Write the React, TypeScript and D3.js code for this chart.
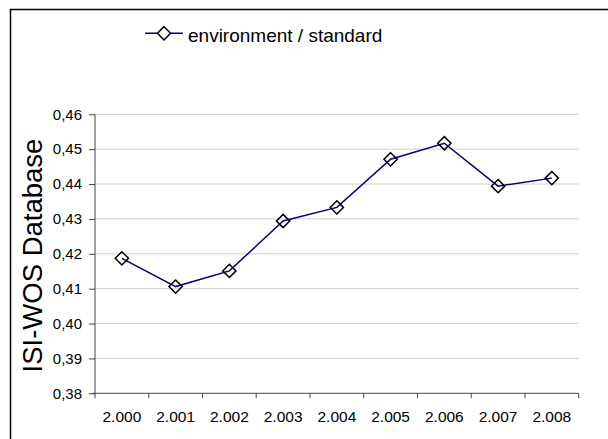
import { useEffect, useRef } from 'react'
import * as d3 from 'd3'

const years = ['2.000', '2.001', '2.002', '2.003', '2.004', '2.005', '2.006', '2.007', '2.008']
const values = [0.4187, 0.4106, 0.4151, 0.4294, 0.4333, 0.4471, 0.4517, 0.4394, 0.4417]
const yTicks = [0.38, 0.39, 0.4, 0.41, 0.42, 0.43, 0.44, 0.45, 0.46]
const seriesName = 'environment / standard'
const yTitle = 'ISI-WOS Database'

const W = 608
const H = 439
const margins = { top: 114.3, right: 29.3, bottom: 45.7, left: 95 }
const FONT = 'Arial, "Liberation Sans", sans-serif'

export default function App() {
  const ref = useRef<SVGSVGElement>(null)

  useEffect(() => {
    if (!ref.current) return
    const svg = d3.select(ref.current)
    svg.selectAll('*').remove()

    const width = W - margins.left - margins.right
    const height = H - margins.top - margins.bottom

    // outer chart frame
    svg
      .append('rect')
      .attr('x', 10.5)
      .attr('y', 9.5)
      .attr('width', W + 20)
      .attr('height', H + 20)
      .attr('fill', '#fff')
      .attr('stroke', '#000')
      .attr('stroke-width', 1.5)

    const g = svg.append('g').attr('transform', `translate(${margins.left},${margins.top})`)

    const x = d3.scaleBand().domain(years).range([0, width])
    const y = d3.scaleLinear().domain([0.38, 0.46]).range([height, 0])

    // gridlines
    g.selectAll('line.grid')
      .data(yTicks.slice(1))
      .enter()
      .append('line')
      .attr('class', 'grid')
      .attr('x1', 0)
      .attr('x2', width)
      .attr('y1', (d) => y(d))
      .attr('y2', (d) => y(d))
      .attr('stroke', '#cfcfcf')
      .attr('stroke-width', 1)

    // y axis
    const yAxis = g
      .append('g')
      .call(
        d3
          .axisLeft(y)
          .tickValues(yTicks)
          .tickSize(6)
          .tickPadding(7)
          .tickFormat((d) => d3.format('.2f')(d as number).replace('.', ','))
      )
    yAxis.select('.domain').attr('stroke', '#444').attr('d', `M0,0V${height}`)
    yAxis.selectAll('line').attr('stroke', '#444')
    yAxis.selectAll('text').style('font', `15px ${FONT}`).attr('fill', '#000')

    // x axis
    const xAxis = g
      .append('g')
      .attr('transform', `translate(0,${height})`)
      .call(d3.axisBottom(x).tickSize(0).tickFormat((d) => d))
    xAxis.select('.domain').attr('stroke', '#444').attr('d', `M-3,0H${width}`)
    xAxis.selectAll('text').attr('y', 29).attr('dy', 0).style('font', `15.5px ${FONT}`).attr('fill', '#000')

    // x ticks at band boundaries
    g.selectAll('line.xtick')
      .data(years.map((yr) => x(yr)!).concat([width]))
      .enter()
      .append('line')
      .attr('x1', (d) => d)
      .attr('x2', (d) => d)
      .attr('y1', height)
      .attr('y2', height + 5)
      .attr('stroke', '#444')

    // series line
    const cx = (i: number) => x(years[i])! + x.bandwidth() / 2
    const line = d3
      .line<number>()
      .x((_, i) => cx(i))
      .y((d) => y(d))
    g.append('path')
      .datum(values)
      .attr('d', line)
      .attr('fill', 'none')
      .attr('stroke', '#000080')
      .attr('stroke-width', 1.5)

    const diamond = d3.symbol().type(d3.symbolDiamond2).size(112)
    g.selectAll('path.marker')
      .data(values)
      .enter()
      .append('path')
      .attr('class', 'marker')
      .attr('transform', (d, i) => `translate(${cx(i)},${y(d)})`)
      .attr('d', diamond())
      .attr('fill', 'none')
      .attr('stroke', '#000')
      .attr('stroke-width', 1.5)

    // y title
    svg
      .append('text')
      .attr('transform', `translate(42,255.5) rotate(-90)`)
      .attr('text-anchor', 'middle')
      .style('font', `27.5px ${FONT}`)
      .text(yTitle)

    // legend
    const lg = svg.append('g').attr('transform', 'translate(145,33.3)')
    lg.append('line').attr('x1', 0).attr('x2', 38).attr('stroke', '#000080').attr('stroke-width', 1.5)
    lg.append('path')
      .attr('transform', 'translate(19,0)')
      .attr('d', diamond())
      .attr('fill', '#fff')
      .attr('stroke', '#000')
      .attr('stroke-width', 1.5)
    lg.append('text')
      .attr('x', 43)
      .attr('y', 8.5)
      .style('font', `19px ${FONT}`)
      .text(seriesName)
  }, [])

  return (
    <svg
      ref={ref}
      width={W}
      height={H}
      style={{ position: 'absolute', left: 0, top: 0, background: '#fff' }}
    />
  )
}
